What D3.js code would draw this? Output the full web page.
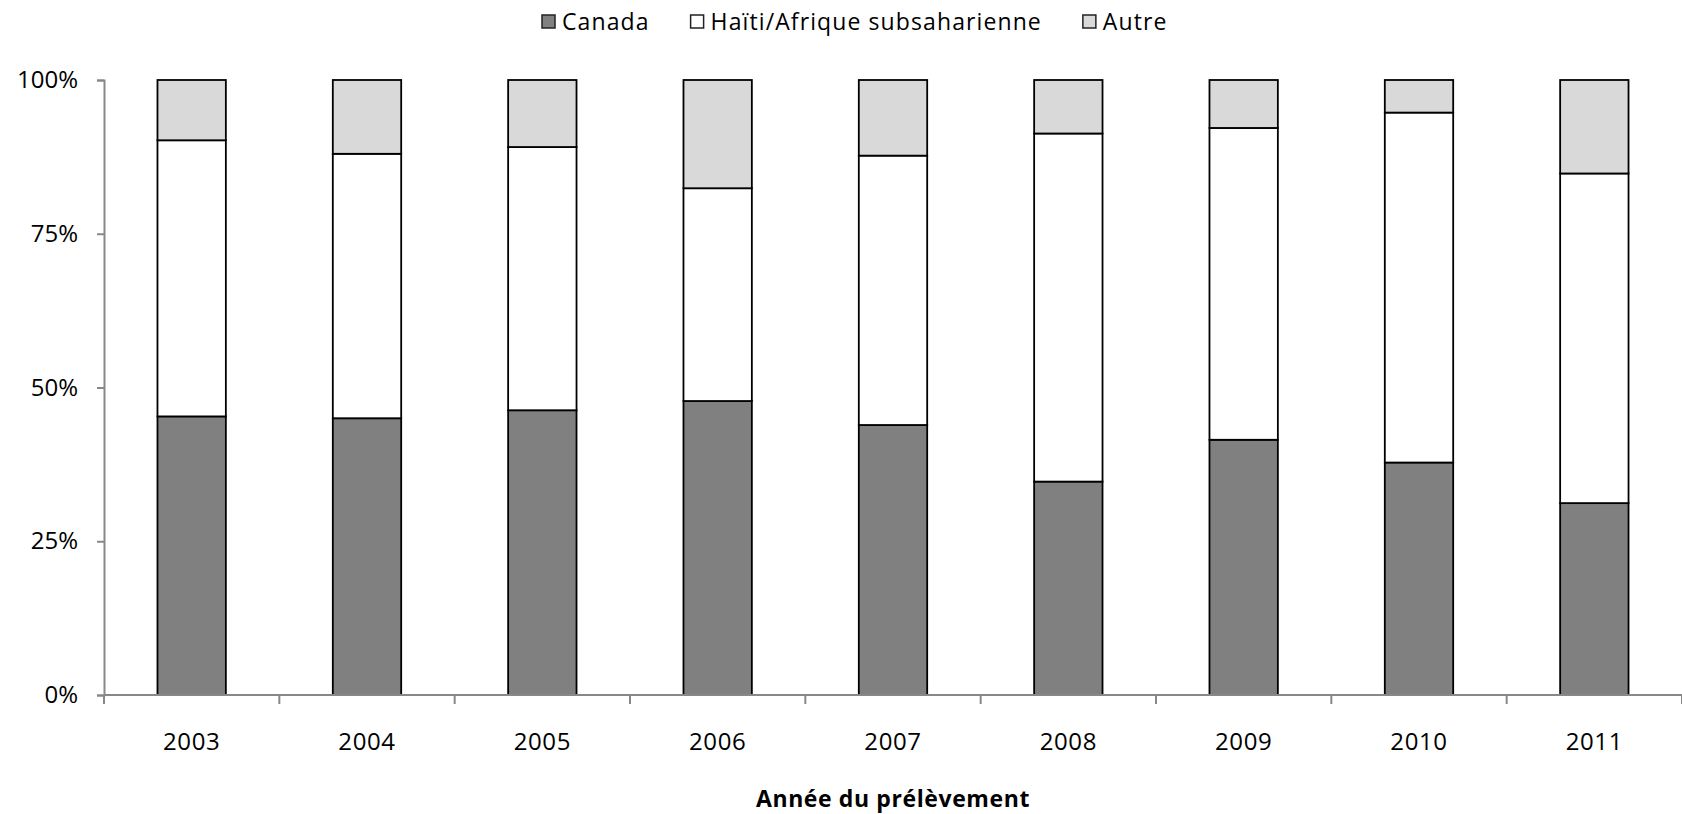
<!DOCTYPE html>
<meta charset="utf-8">
<style>
  body { margin: 0; background: #fff; }
  text { font-family: "Open Sans", sans-serif; fill: #000; }
</style>

<svg width="1682" height="814"></svg>
<script src="https://d3js.org/d3.v7.min.js"></script>
<script>

    // data (percent)
    var years = ["2003", "2004", "2005", "2006", "2007", "2008", "2009", "2010", "2011"];
    var canada = [45.3, 45.0, 46.3, 47.8, 43.9, 34.7, 41.5, 37.8, 31.2];
    var haiti  = [44.9, 43.0, 42.8, 34.6, 43.8, 56.6, 50.7, 56.9, 53.6];
    var autre  = [9.8, 12.0, 10.9, 17.6, 12.3, 8.7, 7.8, 5.3, 15.2];
    var seriesNames = ["Canada", "Haïti/Afrique subsaharienne", "Autre"];
    var seriesColors = ["#808080", "#ffffff", "#d9d9d9"];
    var yTicks = [0, 25, 50, 75, 100];

    var svg = d3.select("svg"),
        width = +svg.attr("width"),
        height = +svg.attr("height");

    var margin = {top: 80, right: 0, bottom: 119, left: 104};

    var rows = years.map(function(y, i) {
        return {year: y, "Canada": canada[i], "Haïti/Afrique subsaharienne": haiti[i], "Autre": autre[i]};
    });

    var stack = d3.stack().keys(seriesNames);
    var layers = stack(rows);

    var x = d3.scaleBand()
        .domain(years)
        .range([margin.left, width - margin.right])
        .paddingInner(0.61)
        .paddingOuter(0.305);

    var y = d3.scaleLinear()
        .domain([0, 100])
        .range([height - margin.bottom, margin.top]);

    var color = d3.scaleOrdinal().domain(seriesNames).range(seriesColors);

    // bars
    svg.append("g")
        .selectAll("g")
        .data(layers)
        .enter().append("g")
            .attr("fill", function(d) { return color(d.key); })
        .selectAll("rect")
        .data(function(d) { return d; })
        .enter().append("rect")
            .attr("x", function(d) { return x(d.data.year); })
            .attr("y", function(d) { return y(d[1]); })
            .attr("width", x.bandwidth())
            .attr("height", function(d) { return y(d[0]) - y(d[1]); })
            .attr("stroke", "#000")
            .attr("stroke-width", 1.8);

    // y axis
    var yAxis = svg.append("g")
        .attr("transform", "translate(" + margin.left + ",0)")
        .call(d3.axisLeft(y).tickValues(yTicks).tickSize(7).tickPadding(19)
            .tickFormat(function(d) { return d + "%"; }));
    yAxis.select(".domain").attr("stroke", "#888").attr("stroke-width", 2);
    yAxis.selectAll(".tick line").attr("stroke", "#888").attr("stroke-width", 2);
    yAxis.selectAll("text").style("font-size", "24px").attr("fill", "#000");

    // x axis, ticks sit between categories
    var xAxisG = svg.append("g")
        .attr("transform", "translate(0," + y(0) + ")");
    xAxisG.append("line")
        .attr("x1", margin.left).attr("x2", width)
        .attr("stroke", "#888").attr("stroke-width", 2);
    var bounds = years.map(function(d) { return x(d) - x.step() * x.paddingOuter(); });
    bounds.push(x(years[years.length - 1]) + x.bandwidth() + x.step() * x.paddingOuter());
    xAxisG.selectAll(".xt")
        .data(bounds)
        .enter().append("line")
            .attr("class", "xt")
            .attr("x1", function(d) { return d; })
            .attr("x2", function(d) { return d; })
            .attr("y1", 0).attr("y2", 9)
            .attr("stroke", "#888").attr("stroke-width", 2);
    xAxisG.selectAll(".xl")
        .data(years)
        .enter().append("text")
            .attr("class", "xl")
            .attr("x", function(d) { return x(d) + x.bandwidth() / 2; })
            .attr("y", 47)
            .attr("dy", "0.35em")
            .attr("text-anchor", "middle")
            .style("font-size", "24px")
            .style("letter-spacing", "0.6px")
            .text(function(d) { return d; });

    // axis title
    svg.append("text")
        .attr("x", (margin.left + width) / 2)
        .attr("y", 799)
        .attr("dy", "0.35em")
        .attr("text-anchor", "middle")
        .style("font-size", "23px")
        .style("font-weight", "bold")
        .style("letter-spacing", "0.6px")
        .text("Année du prélèvement");

    // legend
    var legend = svg.append("g").attr("class", "legend");
    var lx = 542;
    seriesNames.forEach(function(name, i) {
        var item = legend.append("g").attr("transform", "translate(" + lx + ",0)");
        item.append("rect")
            .attr("x", 0).attr("y", 15)
            .attr("width", 13).attr("height", 13)
            .attr("fill", color(name))
            .attr("stroke", "#222").attr("stroke-width", 1.5);
        var t = item.append("text")
            .attr("x", 20).attr("y", 21.5)
            .attr("dy", "0.35em")
            .style("font-size", "23px")
            .style("letter-spacing", "1.1px")
            .text(name);
        lx += 20 + t.node().getComputedTextLength() + 41;
    });
</script>
